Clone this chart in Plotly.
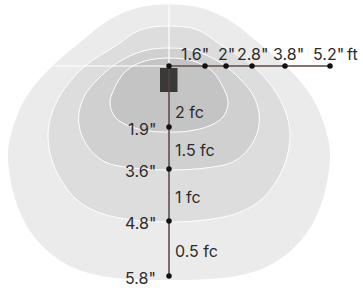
import plotly.graph_objects as go

# ---- data ----
spread_labels = ['1.6"', '2"', '2.8"', '3.8"', '5.2"']   # horizontal spread distances
spread_pos = [205, 226, 252, 285, 330]                  # their places on the diagram's x scale
throw_labels = ['1.9"', '3.6"', '4.8"', '5.8"']         # vertical throw distances
throw_pos = [127, 169, 221, 276]                        # their places on the diagram's y scale
fc_labels = ['2 fc', '1.5 fc', '1 fc', '0.5 fc']         # illuminance bands
unit_label = 'ft'

# iso-illuminance outlines: depth and half width (right half, mirrored)
outer_y = [5, 8, 20, 43, 66, 88, 110, 147, 173, 200, 227, 250, 267, 276, 279, 279.5]
outer_w = [0, 30, 59, 89, 116, 136, 149, 160, 159, 153, 141, 122, 96, 64, 30, 0]
mid_y = [26, 30, 45, 66, 88, 110, 133, 157, 180, 200, 213, 220, 222]
mid_w = [0, 29, 52, 84, 104, 116, 121, 118, 108, 92, 69, 36, 0]
third_y = [48, 51, 63, 80, 95, 113, 130, 147, 162, 168, 170]
third_w = [0, 26, 52, 72, 84, 90, 89, 81, 64, 36, 0]
inner_y = [58, 61, 70, 85, 103, 117, 126, 131, 132]
inner_w = [0, 24, 42, 53, 59, 54, 40, 20, 0]

# ---- styling ----
CX, CY = 169, 66
FIX_X0, FIX_X1, FIX_Y0, FIX_Y1 = 160, 177.5, 68, 92
fills = ['#ebebeb', '#dddddd', '#d0d0d0', '#c4c4c4']
LINE = '#54463f'
TXT = '#2b2b2b'
FONT = 'Inter'
FS = 16
spread_xshift = [-10, 0, 0, 3, -2]

fig = go.Figure()

def outline(ys, ws):
    xs = [CX + w for w in ws] + [CX - w for w in reversed(ws[:-1])]
    yy = list(ys) + list(reversed(ys[:-1]))
    return xs, yy

for (ys, ws), col in zip([(outer_y, outer_w), (mid_y, mid_w), (third_y, third_w), (inner_y, inner_w)], fills):
    xs, yy = outline(ys, ws)
    fig.add_trace(go.Scatter(x=xs, y=yy, mode='lines', fill='toself', fillcolor=col,
                             line=dict(color='white' if col != fills[0] else col, width=1, shape='spline', smoothing=1),
                             hoverinfo='skip', showlegend=False))

# white guide lines
fig.add_trace(go.Scatter(x=[CX - outer_w[4], CX + outer_w[4]], y=[CY, CY], mode='lines',
                         line=dict(color='white', width=1.2), hoverinfo='skip', showlegend=False))
fig.add_trace(go.Scatter(x=[CX, CX], y=[outer_y[0], CY], mode='lines', line=dict(color='white', width=1.2),
                         hoverinfo='skip', showlegend=False))

# fixture
fig.add_trace(go.Scatter(x=[FIX_X0, FIX_X1, FIX_X1, FIX_X0, FIX_X0], y=[FIX_Y0, FIX_Y0, FIX_Y1, FIX_Y1, FIX_Y0],
                         mode='lines', fill='toself', fillcolor='#3b3938', line=dict(color='#3b3938', width=0),
                         hoverinfo='skip', showlegend=False))

# dimension lines
fig.add_trace(go.Scatter(x=[CX, spread_pos[-1]], y=[CY, CY], mode='lines', line=dict(color=LINE, width=1.5),
                         hoverinfo='skip', showlegend=False))
fig.add_trace(go.Scatter(x=[CX, CX], y=[CY, throw_pos[-1]], mode='lines', line=dict(color=LINE, width=1.5),
                         hoverinfo='skip', showlegend=False))

# dots
fig.add_trace(go.Scatter(x=[CX] + spread_pos + [CX] * len(throw_pos), y=[CY] * (1 + len(spread_pos)) + throw_pos,
                         mode='markers', marker=dict(color='#111111', size=5.5, line=dict(width=0)),
                         hoverinfo='skip', showlegend=False))

ann = []
for lab, x, sh in zip(spread_labels, spread_pos, spread_xshift):
    ann.append(dict(x=x, y=CY, text=lab, xanchor='center', yanchor='middle', xshift=sh, yshift=12))
ann.append(dict(x=spread_pos[-1], y=CY, text=unit_label, xanchor='left', yanchor='middle', xshift=15, yshift=12))
for lab, y in zip(throw_labels, throw_pos):
    ann.append(dict(x=CX, y=y, text=lab, xanchor='right', yanchor='middle', xshift=-11, yshift=-2))
bounds = [FIX_Y1] + throw_pos
for i, lab in enumerate(fc_labels):
    ann.append(dict(x=CX, y=(bounds[i] + bounds[i + 1]) / 2, text=lab, xanchor='left', yanchor='middle',
                    xshift=4, yshift=-2))
for a in ann:
    a.update(showarrow=False, xref='x', yref='y', font=dict(family=FONT, size=FS, color=TXT))

fig.update_layout(
    width=363, height=292, margin=dict(l=0, r=0, t=0, b=0),
    paper_bgcolor='white', plot_bgcolor='white',
    xaxis=dict(range=[0, 363], visible=False, fixedrange=True),
    yaxis=dict(range=[292, 0], visible=False, fixedrange=True),
    annotations=ann, showlegend=False,
)
fig.write_html("out.html", config={'displayModeBar': False},
               post_script="document.body.style.margin='0';")
